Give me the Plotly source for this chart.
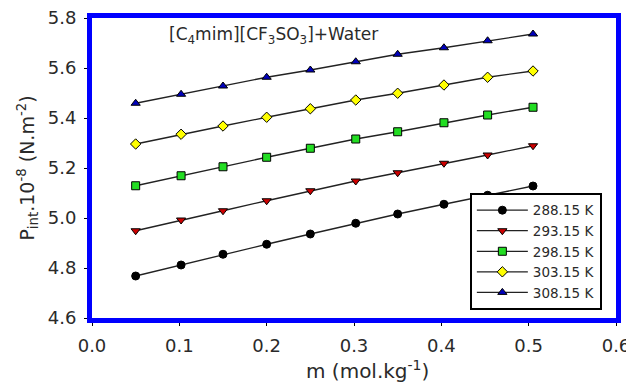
import plotly.graph_objects as go

m = [0.050, 0.102, 0.150, 0.200, 0.250, 0.302, 0.350, 0.403, 0.453, 0.505]
p_288 = [4.768, 4.812, 4.855, 4.895, 4.936, 4.979, 5.016, 5.055, 5.091, 5.128]
p_293 = [4.949, 4.992, 5.029, 5.069, 5.109, 5.148, 5.181, 5.219, 5.252, 5.289]
p_298 = [5.129, 5.169, 5.205, 5.243, 5.279, 5.316, 5.345, 5.381, 5.412, 5.443]
p_303 = [5.296, 5.335, 5.368, 5.403, 5.437, 5.472, 5.499, 5.532, 5.563, 5.588]
p_308 = [5.459, 5.495, 5.528, 5.563, 5.592, 5.625, 5.655, 5.681, 5.709, 5.736]
labels = ["288.15 K", "293.15 K", "298.15 K", "303.15 K", "308.15 K"]
x_ticks = [0.0, 0.1, 0.2, 0.3, 0.4, 0.5, 0.6]
x_tick_text = ["0.0", "0.1", "0.2", "0.3", "0.4", "0.5", "0.6"]
y_ticks = [4.6, 4.8, 5.0, 5.2, 5.4, 5.6, 5.8]
y_tick_text = ["4.6", "4.8", "5.0", "5.2", "5.4", "5.6", "5.8"]
series = [p_288, p_293, p_298, p_303, p_308]
symbols = ["circle", "triangle-down", "square", "diamond", "triangle-up"]
colors = ["#000000", "#CC0000", "#22DD22", "#FFFF00", "#0000BB"]

FONT = "DejaVu Sans, Arial, sans-serif"
TXT = "#2a2a2a"
fig = go.Figure()
for lab, ys, sym, col in zip(labels, series, symbols, colors):
    fig.add_trace(go.Scatter(
        x=m, y=ys, name=lab, mode="lines+markers",
        line=dict(color="#222222", width=1.3),
        marker=dict(symbol=sym, size=8, color=col, line=dict(color="black", width=1)),
    ))

# page body has an 8px default margin; margins compensate so the plot area
# lands at x 92..616, y 18..318 of the window
fig.update_layout(
    width=634, height=382, autosize=False,
    margin=dict(l=84, r=26, t=10, b=72),
    paper_bgcolor="white", plot_bgcolor="white",
    font=dict(family=FONT, size=16, color=TXT),
    showlegend=True,
    legend=dict(
        x=0.973, y=0.027, xanchor="right", yanchor="bottom",
        bordercolor="black", borderwidth=2, bgcolor="white",
        font=dict(family=FONT, size=13.5, color=TXT),
        traceorder="normal", tracegroupgap=0, itemwidth=51,
    ),
    annotations=[
        dict(
            x=0.346, y=0.943, xref="paper", yref="paper", xanchor="center", yanchor="middle",
            text="[C<sub>4</sub>mim][CF<sub>3</sub>SO<sub>3</sub>]+Water",
            showarrow=False, font=dict(family=FONT, size=17, color=TXT),
        ),
        dict(
            x=0.525, y=-0.172, xref="paper", yref="paper", xanchor="center", yanchor="middle",
            text="m (mol.kg<sup>-1</sup>)",
            showarrow=False, font=dict(family=FONT, size=20, color=TXT),
        ),
    ],
)
fig.update_xaxes(
    range=[0, 0.6], tickvals=x_ticks, ticktext=x_tick_text,
    showgrid=False, zeroline=False, automargin=False, ticklabeloverflow="allow",
    showline=True, linecolor="#0000FF", linewidth=5, mirror=True,
    ticks="outside", ticklen=3, tickcolor="black", ticklabelstandoff=4,
    tickfont=dict(size=18),
)
fig.update_yaxes(
    range=[4.6, 5.8], tickvals=y_ticks, ticktext=y_tick_text,
    showgrid=False, zeroline=False, automargin=False, ticklabeloverflow="allow",
    showline=True, linecolor="#0000FF", linewidth=5, mirror=True,
    ticks="outside", ticklen=3, tickcolor="black", ticklabelstandoff=4,
    title=dict(text="P<sub>int</sub>.10<sup>-8</sup> (N.m<sup>-2</sup>)", font=dict(size=19), standoff=10),
    tickfont=dict(size=18),
)
fig.write_html("out.html")
